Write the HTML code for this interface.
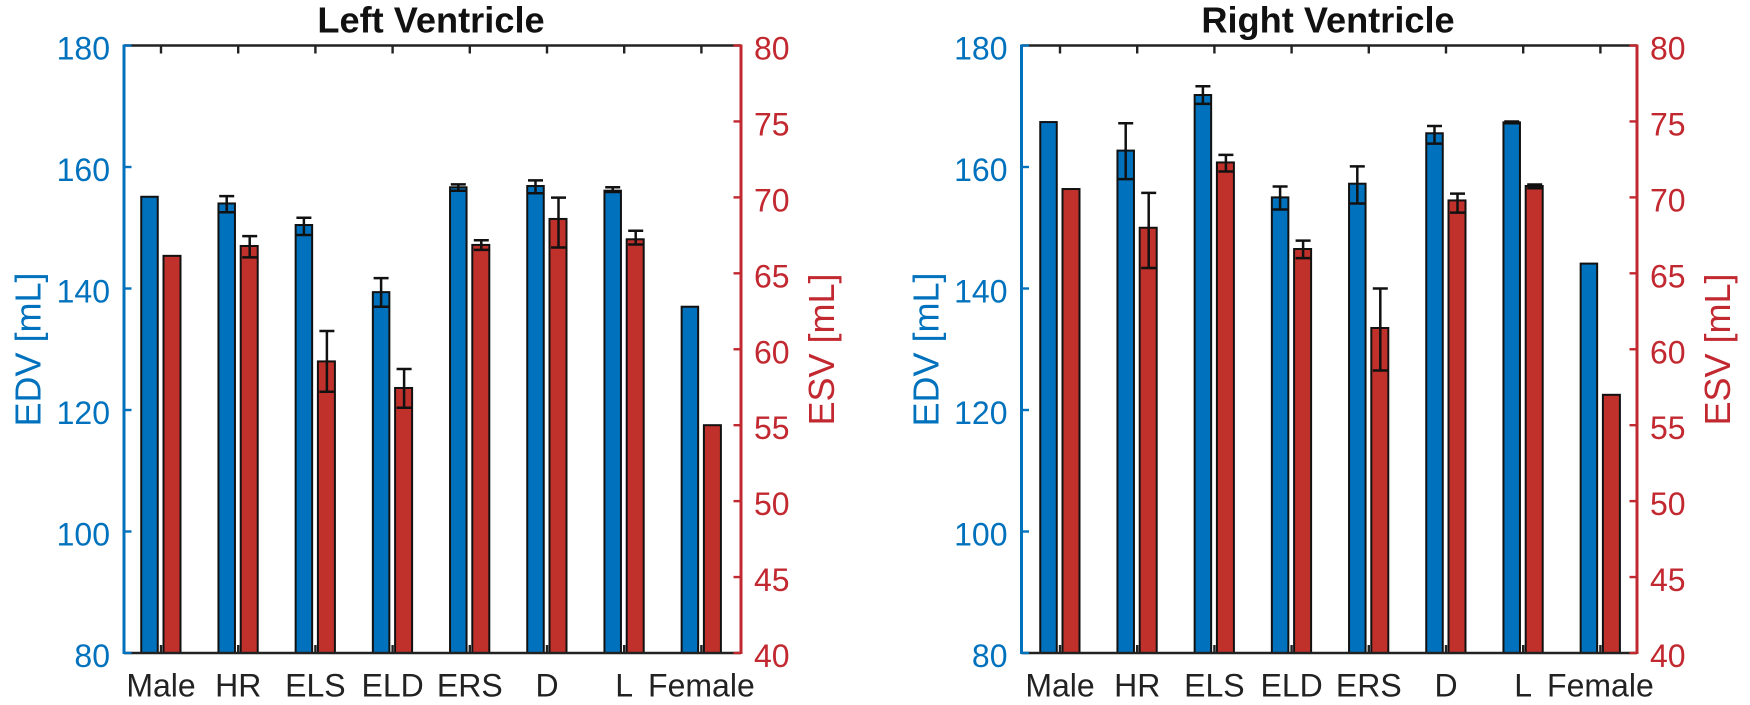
<!DOCTYPE html>
<html lang="en">
<head>
<meta charset="utf-8">
<title>Left and Right Ventricle EDV and ESV</title>
<style>
html,body{margin:0;padding:0;background:#fff;width:1750px;height:705px;overflow:hidden}
svg{display:block}
text{font-family:"Liberation Sans",Arial,sans-serif}
</style>
</head>
<body>
<svg id="figure" xmlns="http://www.w3.org/2000/svg" width="1750" height="705" viewBox="0 0 1750 705">
  <rect width="1750" height="705" fill="#fff"/>
  <text x="431" y="32.5" font-size="36.2" font-weight="bold" text-anchor="middle" fill="#111">Left Ventricle</text>
  <text x="1328" y="32.5" font-size="36.2" font-weight="bold" text-anchor="middle" fill="#111">Right Ventricle</text>
  <text transform="translate(40.5 349.5) rotate(-90)" font-size="36" text-anchor="middle" fill="#0072BD">EDV [mL]</text>
  <text transform="translate(834 349.5) rotate(-90)" font-size="36" text-anchor="middle" fill="#C2282F">ESV [mL]</text>
  <text transform="translate(938.5 349.5) rotate(-90)" font-size="36" text-anchor="middle" fill="#0072BD">EDV [mL]</text>
  <text transform="translate(1730 349.5) rotate(-90)" font-size="36" text-anchor="middle" fill="#C2282F">ESV [mL]</text>
</svg>
<script>
var categories = ['Male', 'HR', 'ELS', 'ELD', 'ERS', 'D', 'L', 'Female'];
var edvTickLabels = [80, 100, 120, 140, 160, 180];
var esvTickLabels = [40, 45, 50, 55, 60, 65, 70, 75, 80];

var lvEdv     = [155.1, 154.0, 150.45, 139.4, 156.66, 156.87, 156.1, 137.0];
var lvEdvHigh = [null, 155.2, 151.65, 141.7, 157.15, 157.8, 156.66, null];
var lvEdvLow  = [null, 152.55, 148.8, 137.0, 156.1, 155.67, 155.88, null];
var lvEsv     = [66.15, 66.8, 59.2, 57.45, 66.87, 68.58, 67.24, 55.0];
var lvEsvHigh = [null, 67.45, 61.2, 58.7, 67.18, 69.98, 67.8, null];
var lvEsvLow  = [null, 66.05, 57.2, 56.15, 66.54, 66.7, 66.9, null];

var rvEdv     = [167.4, 162.7, 171.85, 155.0, 157.25, 165.55, 167.35, 144.1];
var rvEdvHigh = [null, 167.2, 173.3, 156.8, 160.1, 166.75, 167.5, null];
var rvEdvLow  = [null, 158.0, 170.4, 153.0, 154.0, 163.84, 167.2, null];
var rvEsv     = [70.55, 68.0, 72.3, 66.6, 61.4, 69.8, 70.75, 57.0];
var rvEsvHigh = [null, 70.3, 72.8, 67.15, 64.0, 70.25, 70.85, null];
var rvEsvLow  = [null, 65.35, 71.7, 66.0, 58.6, 69.0, 70.6, null];

var svgNS = 'http://www.w3.org/2000/svg';
var svg = document.getElementById('figure');
var BLUE = '#0072BD', RED = '#C2282F', BAR_RED = '#C1312B', INK = '#111';
var TOP = 45.5, BOTTOM = 653;

function edvY(v) { return TOP + (180 - v) / (180 - 80) * (BOTTOM - TOP); }
function esvY(v) { return TOP + (80 - v) / (80 - 40) * (BOTTOM - TOP); }

function mk(tag, parent, attrs) {
  var el = document.createElementNS(svgNS, tag);
  for (var k in attrs) { el.setAttribute(k, attrs[k]); }
  parent.appendChild(el);
  return el;
}

function drawBar(g, x, yTop, color, w) {
  var el = mk('rect', g, {x: x - w / 2, y: yTop, width: w, height: BOTTOM - yTop, fill: color, stroke: '#111', 'stroke-width': 2});
  return el;
}

function drawError(g, x, yHigh, yLow) {
  var p = mk('path', g, {
    d: 'M' + (x - 7.5) + ' ' + yHigh + 'H' + (x + 7.5) + 'M' + x + ' ' + yHigh + 'V' + yLow + 'M' + (x - 7.5) + ' ' + yLow + 'H' + (x + 7.5),
    fill: 'none', stroke: '#111', 'stroke-width': 2.5
  });
  return p;
}

function drawPanel(prefix, left, right, firstTick, edv, edvHigh, edvLow, esv, esvHigh, esvLow) {
  var g = mk('g', svg, {});
  
  
  var step = 77.2;
  function catX(i) { return firstTick + step * i; }

  categories.forEach(function (name, i) {
    var x = catX(i);
    var tTop = mk('line', g, {x1: x, x2: x, y1: TOP, y2: TOP + 8, stroke: '#222', 'stroke-width': 2.4});
    
    
    var tBottom = mk('line', g, {x1: x, x2: x, y1: BOTTOM, y2: BOTTOM - 8, stroke: '#222', 'stroke-width': 2.4});
    
    
    var label = mk('text', g, {x: x, y: 696.5, 'font-size': 32, 'text-anchor': 'middle', fill: '#222'});
    label.textContent = name;
    
    
  });

  categories.forEach(function (name, i) {
    var x = catX(i);
    var b = drawBar(g, x - 11.5, edvY(edv[i]), BLUE, 16.5);
    
    
    var r = drawBar(g, x + 11, esvY(esv[i]), BAR_RED, 17);
    
    
  });

  categories.forEach(function (name, i) {
    var x = catX(i);
    if (edvHigh[i] !== null) {
      var e1 = drawError(g, x - 11.5, edvY(edvHigh[i]), edvY(edvLow[i]));
      
      
    }
    if (esvHigh[i] !== null) {
      var e2 = drawError(g, x + 11.5, esvY(esvHigh[i]), esvY(esvLow[i]));
      
      
    }
  });

  var axTop = mk('line', g, {x1: left, x2: right, y1: TOP, y2: TOP, stroke: '#222', 'stroke-width': 2.6});
  
  
  var axBottom = mk('line', g, {x1: left, x2: right, y1: BOTTOM, y2: BOTTOM, stroke: '#222', 'stroke-width': 2.6});
  
  
  var axL = mk('line', g, {x1: left, x2: left, y1: TOP - 1, y2: BOTTOM + 1, stroke: BLUE, 'stroke-width': 3});
  
  
  var axR = mk('line', g, {x1: right, x2: right, y1: TOP - 1, y2: BOTTOM + 1, stroke: RED, 'stroke-width': 3});
  
  

  edvTickLabels.forEach(function (v) {
    var y = edvY(v);
    var t = mk('line', g, {x1: left, x2: left + 7.5, y1: y, y2: y, stroke: BLUE, 'stroke-width': 2.4});
    
    
    var l = mk('text', g, {x: left - 14, y: y + 14, 'font-size': 32, 'text-anchor': 'end', fill: BLUE});
    l.textContent = v;
    
    
  });

  esvTickLabels.forEach(function (v) {
    var y = esvY(v);
    var t = mk('line', g, {x1: right - 7.5, x2: right, y1: y, y2: y, stroke: RED, 'stroke-width': 2.4});
    
    
    var l = mk('text', g, {x: right + 13, y: y + 14, 'font-size': 32, 'text-anchor': 'start', fill: RED});
    l.textContent = v;
    
    
  });
}

drawPanel('left-ventricle', 124, 741, 161, lvEdv, lvEdvHigh, lvEdvLow, lvEsv, lvEsvHigh, lvEsvLow);
drawPanel('right-ventricle', 1021.5, 1637, 1060, rvEdv, rvEdvHigh, rvEdvLow, rvEsv, rvEsvHigh, rvEsvLow);
</script>
</body>
</html>
